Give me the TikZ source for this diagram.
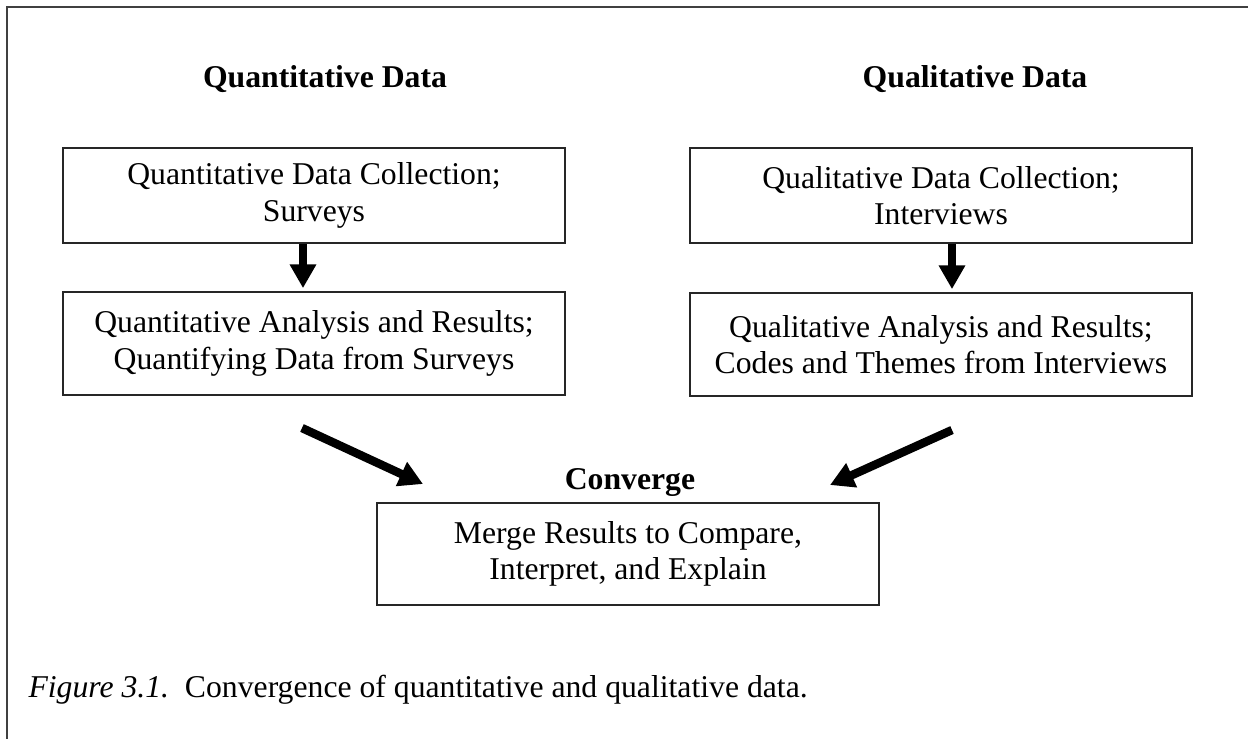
\documentclass[tikz,border=0pt]{standalone}
\usepackage{fontspec}
\setmainfont{Liberation Serif}
\usetikzlibrary{arrows.meta}
\begin{document}
\begin{tikzpicture}[x=0.3785pt,y=-0.3785pt,
  txt/.style={font=\fontsize{12}{13.8}\selectfont},
  box/.style={txt,draw=black!85,line width=0.7pt,minimum width=190pt,align=center,inner sep=0pt},
  title/.style={font=\fontsize{12}{13.8}\selectfont\bfseries,anchor=base,inner sep=0pt},
  blockarrow/.style={line width=3.2pt,-{Triangle[width=9.5pt,length=9pt]}},
  frame/.style={draw=black!75,line width=0.8pt}
]
\useasboundingbox (0,0) rectangle (1248,738);
\clip (0,0) rectangle (1248,738);
% outer frame (only top and left edges visible)
\draw[frame] (7,760) -- (7,7) -- (1270,7);

% titles
\node[title] (tq) at (325,87) {Quantitative Data};
\node[title] (tl) at (975,87) {Qualitative Data};

% boxes
\node[box,minimum height=36pt] (b1) at (314,195.5) {Quantitative Data Collection;\\Surveys};
\node[box,minimum height=39pt] (b2) at (314,343.5) {Quantitative Analysis and Results;\\Quantifying Data from Surveys};
\node[box,minimum height=36pt] (b3) at (941,195.5) {Qualitative Data Collection;\\Interviews};
\node[box,minimum height=39pt] (b4) at (941,344.5) {Qualitative Analysis and Results;\\Codes and Themes from Interviews};

\node[title] (cv) at (630,489) {Converge};
\node[box,minimum height=38.6pt] (m) at (628,554) {Merge Results to Compare,\\Interpret, and Explain};

% caption
\node[txt,anchor=base west,inner sep=0pt] (cap) at (28,697) {\textit{Figure 3.1.}\ \ Convergence of quantitative and qualitative data.};

% arrow x positions
\coordinate (ax1) at (303,0);
\coordinate (ax2) at (952,0);
\draw[blockarrow,shorten >=1.1pt] (b1.south -| ax1) -- (b2.north -| ax1);
\draw[blockarrow,shorten >=1.1pt] (b3.south -| ax2) -- (b4.north -| ax2);

% diagonal arrows
\coordinate (d1s) at (302,428);
\coordinate (d1e) at (423,484);
\coordinate (d2s) at (952,430);
\coordinate (d2e) at (830,485);
\draw[blockarrow] (d1s) -- (d1e);
\draw[blockarrow] (d2s) -- (d2e);
\end{tikzpicture}
\end{document}
